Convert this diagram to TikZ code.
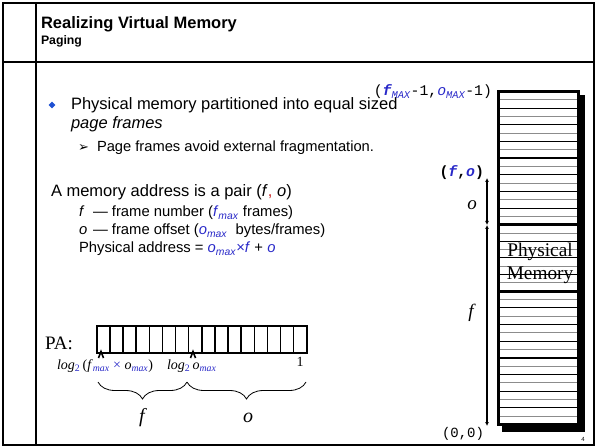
\documentclass[tikz,border=0pt]{standalone}
\usepackage{fontspec}
\setmainfont{Liberation Sans}
\newfontfamily\serifface{Liberation Serif}
\newfontfamily\monoface{Liberation Mono}
\newfontfamily\symface{DejaVu Sans}
\usetikzlibrary{shapes.geometric,decorations.pathreplacing,arrows.meta}
\definecolor{hiblue}{RGB}{40,40,200}
\definecolor{bulletblue}{RGB}{30,80,210}
\definecolor{commared}{RGB}{200,40,40}
\definecolor{stripegray}{RGB}{140,140,140}
\newcommand{\fsz}[2]{\fontsize{#1bp}{#2bp}\selectfont}
\newcommand{\lowidx}[1]{\textsubscript{#1}}
\begin{document}
\begin{tikzpicture}[x=1bp,y=-1bp,
  txt/.style={inner sep=0pt,outer sep=0pt,anchor=base west},
  rtxt/.style={inner sep=0pt,outer sep=0pt,anchor=base east},
  ctxt/.style={inner sep=0pt,outer sep=0pt},
  frameline/.style={line width=1.4bp},
  bodyfont/.style={font=\fsz{16.5}{19}},
  deffont/.style={font=\fsz{14.8}{17}},
  cellbox/.style={draw,line width=1.6bp,minimum width=13.125bp,minimum height=27bp,inner sep=0pt,anchor=north west},
  caret/.style={line width=1.6bp},
  bracestyle/.style={decorate,decoration={brace,mirror,amplitude=17bp},line width=0.8bp},
  stripe/.style={line width=1bp},
  divider/.style={line width=2.8bp},
  dimarrow/.style={line width=1.1bp,{Latex[length=4bp,width=4bp]}-{Latex[length=4bp,width=4bp]}}]
\useasboundingbox (0,0) rectangle (595,447);

% slide frame
\draw[frameline] (3,3) rectangle (594,445);
\draw[line width=2.2bp] (3,445) -- (594,445);
\draw[frameline] (36,3) -- (36,445);
\draw[frameline] (3,62) -- (594,62);

% heading
\node[txt,font=\fsz{16.5}{19}\bfseries] (title) at (41,28.5) {Realizing Virtual Memory};
\node[txt,font=\fsz{12.3}{14}\bfseries] (sub) at (41,45) {Paging};

% bullet text
\node[diamond,fill=bulletblue,inner sep=0pt,minimum size=7bp] (dot) at (52,105) {};
\node[txt,bodyfont] (b1) at (71,110) {Physical memory partitioned into equal sized};
\node[txt,font=\fsz{16.5}{19}\itshape] (b1b) at (71,128.5) {page frames};
\node[txt,font=\symface\fsz{13}{15}] (arr) at (78,152) {➢};
\node[txt,font=\fsz{14.7}{17}] (b2) at (97,152) {Page frames avoid external fragmentation.};

% address definitions
\node[txt,bodyfont] (pair) at (51,197) {A memory address is a pair (\textit{f}\textcolor{commared}{,} \textit{o})};
\node[txt,deffont] (fsym) at (79,217) {\textit{f}};
\node[txt,deffont] (fdef) at (93,217) {— frame number (\textcolor{hiblue}{\textit{f}\lowidx{\textit{max}}} frames)};
\node[txt,deffont] (osym) at (79,235) {\textit{o}};
\node[txt,deffont] (odef) at (93,235) {— frame offset (\textcolor{hiblue}{\textit{o}\lowidx{\textit{max}}}\ \ bytes/frames)};
\node[txt,deffont] (padr) at (79,253) {Physical address = \textcolor{hiblue}{\textit{o}\lowidx{\textit{max}}×\textit{f}} + \textcolor{hiblue}{\textit{o}}};

% physical address register
\node[txt,font=\serifface\fsz{19}{21}] (pa) at (45,349) {PA:};
\foreach \i in {0,...,15}
  \node[cellbox] (c\i) at ({96+\i*13.125},325) {};
\draw[caret] (98.5,358) -- (101,351.5) -- (103.5,358);
\draw[caret] (190.5,358) -- (193,351.5) -- (195.5,358);
\node[txt,font=\serifface\fsz{14}{16}] (lhi) at (57,369)
  {\textit{log}\textcolor{hiblue}{\lowidx{2}}\,(\textit{f}\textcolor{hiblue}{\lowidx{\textit{max}}} \textcolor{hiblue}{×} \textit{o}\textcolor{hiblue}{\lowidx{\textit{max}}})};
\node[txt,font=\serifface\fsz{14}{16}] (lmid) at (167,369)
  {\textit{log}\textcolor{hiblue}{\lowidx{2}}\,\textit{o}\textcolor{hiblue}{\lowidx{\textit{max}}}};
\node[ctxt,font=\serifface\fsz{14}{16}] (one) at (300,362) {1};

\coordinate (bl) at (98,382);
\coordinate (bm) at (187,382);
\coordinate (br) at (306,382);
\draw[bracestyle] (bl) -- (bm);
\draw[bracestyle] (bm) -- (br);
\node[ctxt,font=\serifface\fsz{20}{22}\itshape] (flab) at (142,418) {f};
\node[ctxt,font=\serifface\fsz{20}{22}\itshape] (olab) at (248,418) {o};

% physical memory column
\fill[black] (502,95) rectangle (585,432);
\draw[line width=2.8bp,fill=white] (498.4,91.4) rectangle (578.6,424.6);
\foreach \k in {0,...,4}
  \foreach \j in {1,...,7} {
    \pgfmathsetmacro{\yy}{91.4+\k*66.64+\j*8.33}
    \pgfmathparse{int(mod(\j,2))}
    \ifnum\pgfmathresult=1
      \draw[stripe,stripegray] (499.8,\yy) -- (577.2,\yy);
    \else
      \draw[stripe,black] (499.8,\yy) -- (577.2,\yy);
    \fi
  }
\foreach \k in {1,...,4}
  \draw[divider] (498.4,{91.4+\k*66.64}) -- (578.6,{91.4+\k*66.64});
\node[ctxt,font=\serifface\fsz{19.3}{23},align=center] (pm) at (540,263.5) {Physical\\Memory};

% corner labels
\node[rtxt,font=\monoface\fsz{14.8}{17}] (top) at (492,96)
  {(\textcolor{hiblue}{\bfseries\itshape f\lowidx{\mdseries MAX}}-1,\textcolor{hiblue}{\itshape o\lowidx{MAX}}-1)};
\node[rtxt,font=\monoface\fsz{14.8}{17}\bfseries] (fo) at (484,177)
  {(\textcolor{hiblue}{\itshape f},\textcolor{hiblue}{\itshape o})};
\node[rtxt,font=\monoface\fsz{14}{16}] (orig) at (484,437) {(0,0)};

% offset and frame extents
\coordinate (ptop) at (487,178);
\coordinate (pmid) at (487,225);
\coordinate (pbot) at (487,426);
\draw[dimarrow] (ptop) -- (pmid);
\draw[dimarrow] (pmid) -- (pbot);
\node[ctxt,font=\serifface\fsz{19}{21}\itshape] (olen) at (472,205) {o};
\node[ctxt,font=\serifface\fsz{19}{21}\itshape] (flen) at (471,313) {f};

% page number
\node[ctxt,font=\fsz{6}{7}] (pg) at (583,439) {4};
\end{tikzpicture}
\end{document}
